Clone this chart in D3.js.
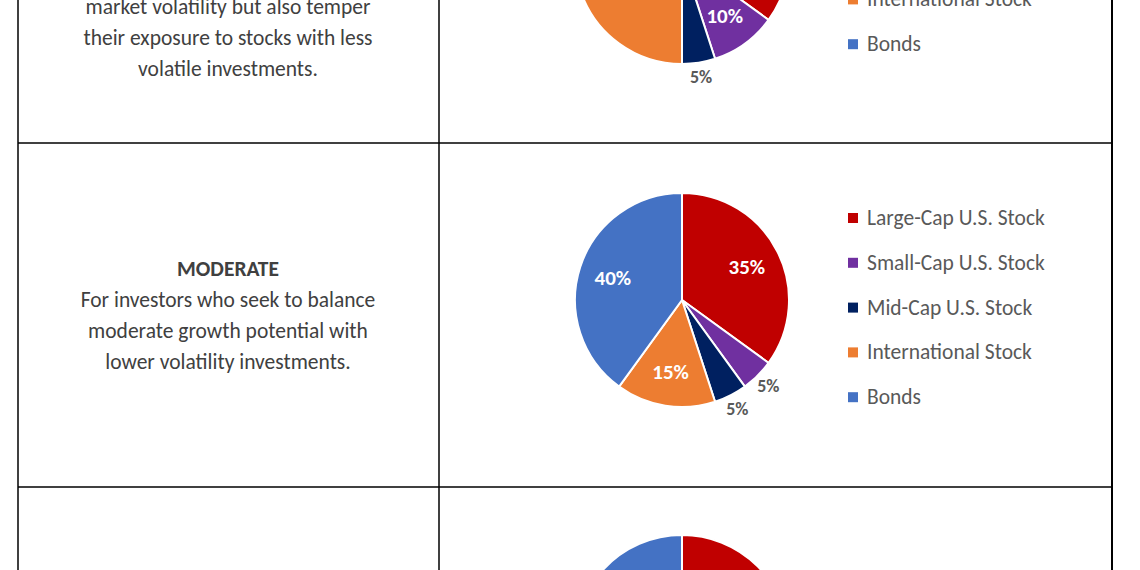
<!DOCTYPE html>
<html><head><meta charset="utf-8">
<script src="https://cdn.jsdelivr.net/npm/d3@7"></script>
<style>body{margin:0;background:#fff}svg{display:block}</style></head>
<body><svg id="c" width="1140" height="570"></svg>
<script>
const categories = ["Large-Cap U.S. Stock","Small-Cap U.S. Stock","Mid-Cap U.S. Stock","International Stock","Bonds"];
const colors = ["#C00000","#7030A0","#002060","#ED7D31","#4472C4"];
const growthValues = [35,10,5,40,10];
const moderateValues = [35,5,5,15,40];
const conservativeValues = [25,5,5,10,55];
const rowTitles = ["GROWTH","MODERATE","CONSERVATIVE"];
const rowTexts = [
 ["For investors who want to grow","their assets while accepting","market volatility but also temper","their exposure to stocks with less","volatile investments."],
 ["For investors who seek to balance","moderate growth potential with","lower volatility investments."],
 ["For investors who seek to preserve","their assets with modest growth."]
];
const rows = [
 {values:growthValues, cy:-43, legendY:-135, textBottom:69},
 {values:moderateValues, cy:300, legendY:218, textBottom:362},
 {values:conservativeValues, cy:642, legendY:585, textBottom:720}
];
const svg = d3.select("#c");
const g = svg.append("g");
const lineY = [-201,143,487,831];
lineY.forEach(y=>g.append("line").attr("x1",18).attr("x2",1112).attr("y1",y).attr("y2",y).attr("stroke","#000").attr("stroke-width",1.5));
[18,439,1112].forEach(x=>g.append("line").attr("x1",x).attr("x2",x).attr("y1",-201).attr("y2",831).attr("stroke","#000").attr("stroke-width",x===1112?2:1.5));
const r = 107, cx = 682;
const pie = d3.pie().sort(null).value(d=>d);
const arc = d3.arc().innerRadius(0).outerRadius(r);
const font = "Carlito, 'Open Sans', sans-serif";
rows.forEach((row,ri)=>{
  const pg = g.append("g").attr("transform",`translate(${cx},${row.cy})`);
  const arcs = pie(row.values);
  pg.selectAll("path").data(arcs).join("path").attr("d",arc)
    .attr("fill",(d,i)=>colors[i]).attr("stroke","#fff").attr("stroke-width",2);
  arcs.forEach((d,i)=>{
    const mid=(d.startAngle+d.endAngle)/2;
    const small = d.data<10;
    const rr = small ? r+15 : r*0.68;
    pg.append("text").attr("x",rr*Math.sin(mid)).attr("y",-rr*Math.cos(mid))
      .attr("text-anchor","middle").attr("dominant-baseline","central")
      .attr("font-family",font).attr("font-weight","bold")
      .attr("font-size",small?18:21).attr("fill",small?"#595959":"#fff").text(d.data+"%");
  });
  const lg = g.append("g");
  categories.forEach((c,i)=>{
    const y = row.legendY + i*44.8;
    lg.append("rect").attr("x",848).attr("y",y-5).attr("width",10).attr("height",10).attr("fill",colors[i]);
    lg.append("text").attr("x",867).attr("y",y).attr("dominant-baseline","central")
      .attr("font-family",font).attr("font-size",21.5).attr("fill","#595959").text(c);
  });
  const lines = rowTexts[ri];
  const n = lines.length;
  const tg = g.append("g").attr("font-family",font).attr("font-size",21.5).attr("text-anchor","middle");
  lines.forEach((t,i)=>{
    tg.append("text").attr("x",228).attr("y",row.textBottom-(n-1-i)*31).attr("dominant-baseline","central").attr("fill","#404040").text(t);
  });
  tg.append("text").attr("x",228).attr("y",row.textBottom-n*31).attr("dominant-baseline","central")
    .attr("font-weight","bold").attr("fill","#404040").text(rowTitles[ri]);
});
</script></body></html>
